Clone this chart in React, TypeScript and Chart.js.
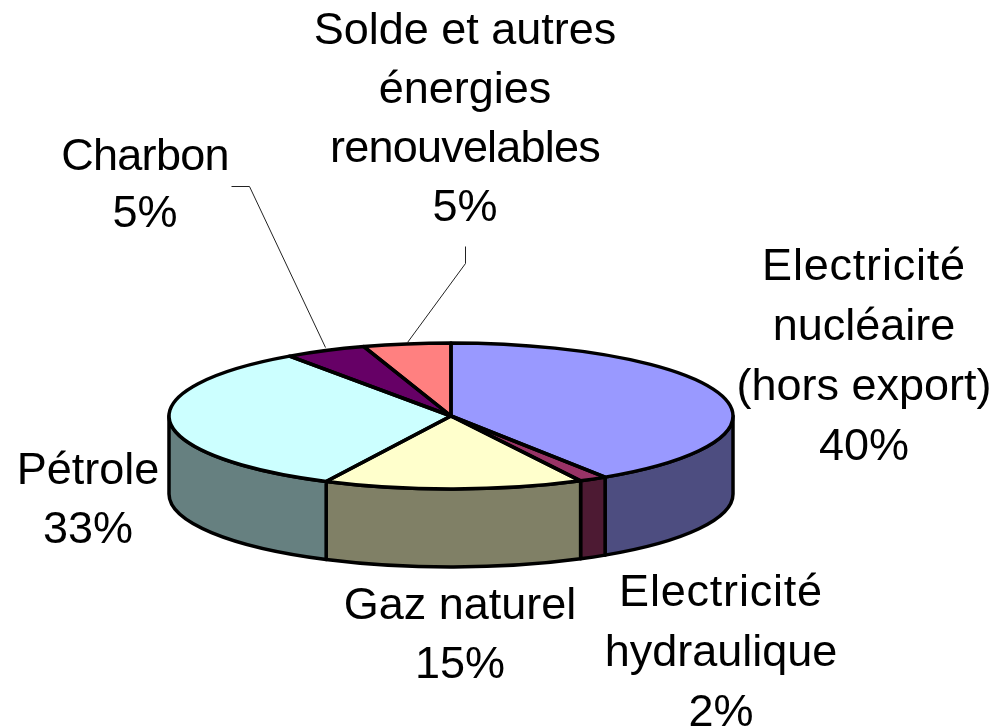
import React, { useEffect, useRef } from "react";
import { Chart, registerables } from "chart.js";

Chart.register(...registerables);

const categories = [
  "Electricité nucléaire (hors export)",
  "Electricité hydraulique",
  "Gaz naturel",
  "Pétrole",
  "Charbon",
  "Solde et autres énergies renouvelables",
];
const shares = [40.8, 1.6, 14.9, 33, 4.7, 5];
const topColors = ["#9999FF", "#993366", "#FFFFCC", "#CCFFFF", "#660066", "#FF8080"];
const wallColors = ["#4D4D80", "#4D1A33", "#808066", "#668080", "#330033", "#804040"];
const labelLines = [
  ["Electricité", "nucléaire", "(hors export)", "40%"],
  ["Electricité", "hydraulique", "2%"],
  ["Gaz naturel", "15%"],
  ["Pétrole", "33%"],
  ["Charbon", "5%"],
  ["Solde et autres", "énergies", "renouvelables", "5%"],
];

// layout (not data)
const RX = 282;
const RY = 73;
const DEPTH = 78;
const labelPos = [
  { x: 864, y: 280, lh: 60 },
  { x: 721, y: 606, lh: 60 },
  { x: 460, y: 619, lh: 59 },
  { x: 88, y: 484, lh: 59 },
  { x: 145, y: 170, lh: 57 },
  { x: 465, y: 44, lh: 59 },
];
const spacing: Record<string, number> = { "Electricité": 0.8, renouvelables: -0.8, Charbon: -0.7 };
const leaders = [
  [[231, 186], [249, 186], [325, 347]],
  [[465, 246], [465, 263], [407, 342]],
];

const pie3d = {
  id: "pie3d",
  beforeDatasetsDraw(chart: any) {
    const ctx = chart.ctx;
    const arcs = chart.getDatasetMeta(0).data;
    const k = RY / arcs[0].outerRadius;
    const { x: cx, y: cy } = arcs[0];
    ctx.save();
    ctx.lineWidth = 3.5;
    ctx.strokeStyle = "#000";
    ctx.lineJoin = "round";
    arcs.forEach((a: any, i: number) => {
      const s = Math.max(a.startAngle, 0);
      const e = Math.min(a.endAngle, Math.PI);
      if (e <= s) return;
      ctx.beginPath();
      ctx.ellipse(cx, cy, RX, RY, 0, s, e);
      ctx.ellipse(cx, cy + DEPTH, RX, RY, 0, e, s, true);
      ctx.closePath();
      ctx.fillStyle = wallColors[i];
      ctx.fill();
      ctx.stroke();
    });
    ctx.restore();
    ctx.save();
    ctx.translate(cx, cy);
    ctx.scale(1, k);
    ctx.translate(-cx, -cy);
  },
  afterDatasetsDraw(chart: any) {
    const ctx = chart.ctx;
    ctx.restore();
    const arcs = chart.getDatasetMeta(0).data;
    const { x: cx, y: cy } = arcs[0];
    ctx.save();
    ctx.lineWidth = 3.5;
    ctx.strokeStyle = "#000";
    ctx.lineJoin = "round";
    arcs.forEach((a: any) => {
      ctx.beginPath();
      ctx.moveTo(cx, cy);
      ctx.ellipse(cx, cy, RX, RY, 0, a.startAngle, a.endAngle);
      ctx.closePath();
      ctx.stroke();
    });
    ctx.lineWidth = 1;
    ctx.strokeStyle = "#222";
    leaders.forEach((pts) => {
      ctx.beginPath();
      pts.forEach(([x, y], j) => (j ? ctx.lineTo(x + 0.5, y + 0.5) : ctx.moveTo(x + 0.5, y + 0.5)));
      ctx.stroke();
    });
    ctx.fillStyle = "#000";
    ctx.font = '45px "Liberation Sans", Arial, sans-serif';
    ctx.textAlign = "center";
    ctx.textBaseline = "alphabetic";
    labelLines.forEach((lines, i) => {
      const p = labelPos[i];
      lines.forEach((t, j) => {
        ctx.letterSpacing = (spacing[t] ?? 0) + "px";
        ctx.fillText(t, p.x, p.y + j * p.lh);
      });
    });
    ctx.restore();
  },
};

export default function App() {
  const ref = useRef<HTMLCanvasElement>(null);
  useEffect(() => {
    const chart = new Chart(ref.current!, {
      type: "pie",
      data: {
        labels: categories,
        datasets: [{ data: shares, backgroundColor: topColors, borderWidth: 0 }],
      },
      options: {
        responsive: false,
        animation: false,
        layout: { padding: { left: 169, right: 261, top: 134, bottom: 30 } },
        plugins: { legend: { display: false }, tooltip: { enabled: false } },
      },
      plugins: [pie3d],
    } as any);
    return () => chart.destroy();
  }, []);
  return (
    <canvas
      ref={ref}
      width={994}
      height={728}
      style={{ position: "absolute", left: 0, top: 0, display: "block" }}
    />
  );
}
